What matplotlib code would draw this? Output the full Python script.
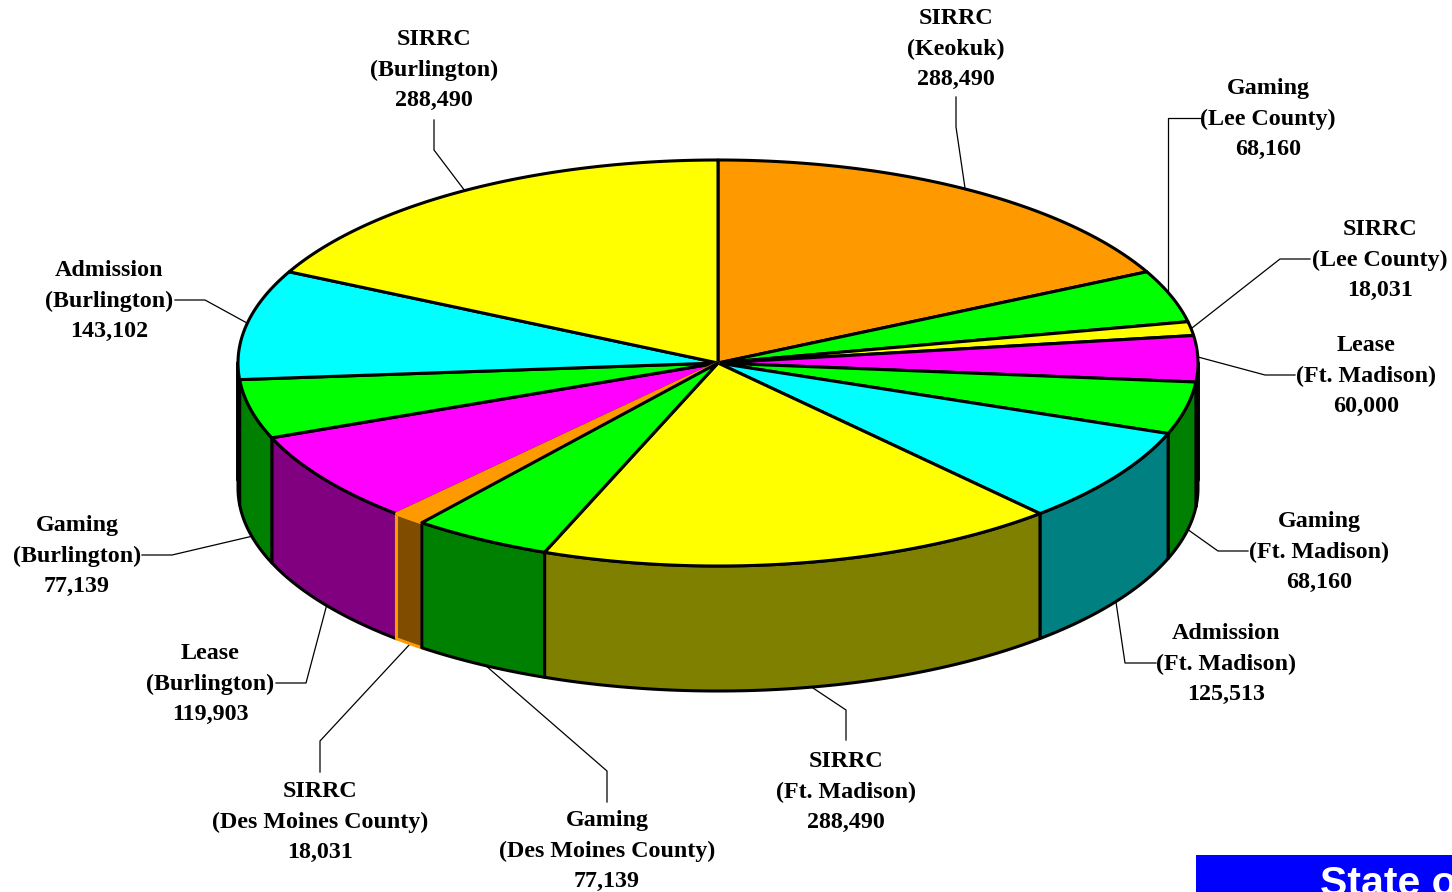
"""Tilted pie of revenue shares, drawn as a 3D disc in pixel coordinates."""

import matplotlib

matplotlib.use("Agg")
import matplotlib.pyplot as plt
import numpy as np

names = [
    "SIRRC\n(Keokuk)",
    "Gaming\n(Lee County)",
    "SIRRC\n(Lee County)",
    "Lease\n(Ft. Madison)",
    "Gaming\n(Ft. Madison)",
    "Admission\n(Ft. Madison)",
    "SIRRC\n(Ft. Madison)",
    "Gaming\n(Des Moines County)",
    "SIRRC\n(Des Moines County)",
    "Lease\n(Burlington)",
    "Gaming\n(Burlington)",
    "Admission\n(Burlington)",
    "SIRRC\n(Burlington)",
]
values = [288490, 68160, 18031, 60000, 68160, 125513, 288490,
          77139, 18031, 119903, 77139, 143102, 288490]
top_colors = ["#ff9900", "#00ff00", "#ffff00", "#ff00ff", "#00ff00", "#00ffff", "#ffff00",
              "#00ff00", "#ff9900", "#ff00ff", "#00ff00", "#00ffff", "#ffff00"]
side_colors = ["#804d00", "#008000", "#808000", "#800080", "#008000", "#008080", "#808000",
               "#008000", "#804d00", "#800080", "#008000", "#008080", "#808000"]
# only the small SIRRC slice is outlined in its own colour
edge_colors = ["black"] * 8 + ["#ff9900"] + ["black"] * 4

# label centre and leader line for each slice, in pixels
label_pos = [(956, 49), (1268, 119), (1380, 260), (1366, 376), (1319, 552), (1226, 664),
             (846, 792), (607, 851), (320, 822), (210, 684), (77, 556), (109, 301), (434, 70)]
leaders = [
    [(956, 97), (956, 127), (965, 188)],
    [(1201, 118), (1168, 118), (1168, 297)],
    [(1310, 259), (1280, 259), (1192, 328)],
    [(1295, 375), (1265, 375), (1198, 357)],
    [(1248, 551), (1218, 551), (1187, 529)],
    [(1156, 663), (1125, 663), (1116, 602)],
    [(846, 740), (846, 710), (810, 686)],
    [(607, 802), (607, 771), (485, 665)],
    [(320, 772), (320, 741), (410, 644)],
    [(276, 683), (306, 683), (327, 604)],
    [(142, 555), (172, 555), (253, 536)],
    [(175, 300), (205, 300), (247, 323)],
    [(434, 120), (434, 150), (465, 191)],
]

CX, CY = 718, 363
RX, RY = 480, 203
DEPTH = 125


def rim(t):
    return CX + RX * np.cos(t), CY - RY * np.sin(t)


def main():
    fig = plt.figure(figsize=(14.52, 8.92), dpi=100)
    ax = fig.add_axes([0, 0, 1, 1])
    ax.set_xlim(0, 1452)
    ax.set_ylim(892, 0)
    ax.axis("off")

    vals = np.array(values, dtype=float)
    edges = np.pi / 2 - 2 * np.pi * np.concatenate([[0], np.cumsum(vals)]) / vals.sum()

    # side wall, only the front half of the disc shows
    for i in range(len(vals)):
        start, end = edges[i], edges[i + 1]
        for lo, hi in [(-np.pi, 0), (-3 * np.pi, -2 * np.pi)]:
            a, b = max(end, lo), min(start, hi)
            if a >= b:
                continue
            t = np.linspace(a, b, 100)
            x, y = rim(t)
            px = np.concatenate([x, x[::-1]])
            py = np.concatenate([y, y[::-1] + DEPTH])
            # orange sits over the purple wall but under the green one
            order = 3.5 if i == 8 else (4 if i == 7 else 3)
            ax.fill(px, py, facecolor=side_colors[i], edgecolor=edge_colors[i],
                    lw=2.2, joinstyle="round", zorder=order)

    # heavier outline where the wall meets the background
    for sx in (CX - RX, CX + RX):
        ax.plot([sx, sx], [CY, CY + DEPTH - 8], color="black", lw=2.8,
                solid_capstyle="round", zorder=4.5)

    # top face
    for i in range(len(vals)):
        t = np.linspace(edges[i], edges[i + 1], 200)
        x, y = rim(t)
        order = 5.5 if i == 8 else (6 if i == 7 else 5)
        ax.fill(np.r_[CX, x], np.r_[CY, y], facecolor=top_colors[i], edgecolor=edge_colors[i],
                lw=2.2, joinstyle="round", zorder=order)

    for i, name in enumerate(names):
        lx, ly = label_pos[i]
        ax.text(lx, ly, f"{name}\n{values[i]:,}", ha="center", va="center",
                family="Liberation Serif", weight="bold", fontsize=17.3,
                linespacing=1.56, color="black", zorder=7)
        xs, ys = zip(*leaders[i])
        ax.plot(xs, ys, color="black", lw=0.9, zorder=1)

    ax.add_patch(plt.Rectangle((1196, 855), 256, 37, facecolor="#0000ff", edgecolor="none", zorder=6))
    ax.text(1320, 895, "State o", ha="left", va="baseline", family="Liberation Sans",
            weight="bold", fontsize=29.5, color="white", zorder=7)

    fig.savefig("out.png", dpi=100)
    plt.close(fig)


if __name__ == "__main__":
    main()
